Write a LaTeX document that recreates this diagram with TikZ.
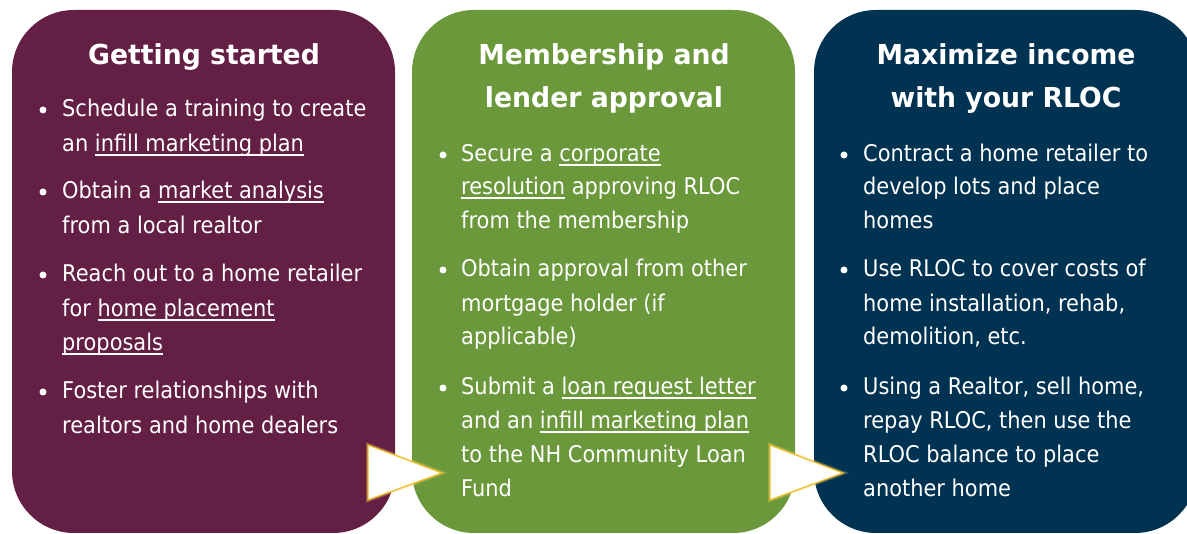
\documentclass[tikz,border=0pt]{standalone}
\usepackage{fontspec}
\setmainfont{DejaVu Sans}[FakeStretch=0.91,BoldFeatures={FakeStretch=0.97}]
\definecolor{plum}{RGB}{100,31,68}
\definecolor{leaf}{RGB}{106,152,59}
\definecolor{ink}{RGB}{0,50,82}
\definecolor{gold}{RGB}{240,190,40}
% underlined link-style text
\newcommand\lnk[1]{\setbox0\hbox{#1}\rlap{\rule[-3.6pt]{\wd0}{1.1pt}}\box0\relax}
\begin{document}
\begin{tikzpicture}[x=1pt,y=-1pt,
  card/.style={rectangle,rounded corners=62pt,inner sep=0pt,draw=none,
    minimum width=383pt,minimum height=523pt},
  title/.style={anchor=base,inner sep=0pt,text=white,
    font=\fontsize{27.5}{32}\selectfont\bfseries},
  txt/.style={anchor=base west,inner sep=0pt,text=white,
    font=\fontsize{23}{28}\selectfont},
  dot/.style={circle,fill=white,inner sep=0pt,minimum size=7pt},
  chevron/.style={fill=white,draw=gold,line width=1.3pt,line join=miter},
  glow/.style={draw=gold!70,line width=4pt,opacity=0.3,line join=miter}]
\useasboundingbox (0,0) rectangle (1187,534);
\clip (0,0) rectangle (1187,534);

% three stage cards
\node[card,fill=plum] (c1) at (203.5,271.5) {};
\node[card,fill=leaf] (c2) at (603.5,271.5) {};
\node[card,fill=ink]  (c3) at (1005.5,271.5) {};

% headings
\node[title] (t1) at (204,65) {Getting started};
\node[title] (t2a) at (604,65) {Membership and};
\node[title] (t2b) at (604,108) {lender approval};
\node[title] (t3a) at (1006,65) {Maximize income};
\node[title] (t3b) at (1006,108) {with your RLOC};

% first card
\foreach \y/\t [count=\i] in {
  117/{Schedule a training to create},
  152/{an \lnk{infill marketing plan}},
  199/{Obtain a \lnk{market analysis}},
  234/{from a local realtor},
  282/{Reach out to a home retailer},
  317/{for \lnk{home placement}},
  351/{\lnk{proposals}},
  399/{Foster relationships with},
  434/{realtors and home dealers}}
  \node[txt] (a\i) at (62,\y) {\t};
\foreach \y [count=\i] in {117,199,282,399}
  \node[dot] (ad\i) at (43,\y-7) {};

% second card
\foreach \y/\t [count=\i] in {
  162/{Secure a \lnk{corporate}},
  195/{\lnk{resolution} approving RLOC},
  229/{from the membership},
  277/{Obtain approval from other},
  312/{mortgage holder (if},
  345/{applicable)},
  395/{Submit a \lnk{loan request letter}},
  429/{and an \lnk{infill marketing plan}},
  463/{to the NH Community Loan},
  497/{Fund}}
  \node[txt] (b\i) at (461,\y) {\t};
\foreach \y [count=\i] in {162,277,395}
  \node[dot] (bd\i) at (443,\y-7) {};

% third card
\foreach \y/\t [count=\i] in {
  162/{Contract a home retailer to},
  195/{develop lots and place},
  229/{homes},
  277/{Use RLOC to cover costs of},
  312/{home installation, rehab,},
  345/{demolition, etc.},
  395/{Using a Realtor, sell home,},
  429/{repay RLOC, then use the},
  463/{RLOC balance to place},
  497/{another home}}
  \node[txt] (c\i) at (863,\y) {\t};
\foreach \y [count=\i] in {162,277,395}
  \node[dot] (cd\i) at (844,\y-7) {};

% step chevrons between the cards
\coordinate (p1a) at (368,445); \coordinate (p1b) at (442,473); \coordinate (p1c) at (368,500);
\coordinate (p2a) at (770,445); \coordinate (p2b) at (843,473); \coordinate (p2c) at (770,500);
\draw[glow] (p1a) -- (p1b) -- (p1c) -- cycle;
\draw[chevron] (p1a) -- (p1b) -- (p1c) -- cycle;
\draw[glow] (p2a) -- (p2b) -- (p2c) -- cycle;
\draw[chevron] (p2a) -- (p2b) -- (p2c) -- cycle;
\end{tikzpicture}
\end{document}
